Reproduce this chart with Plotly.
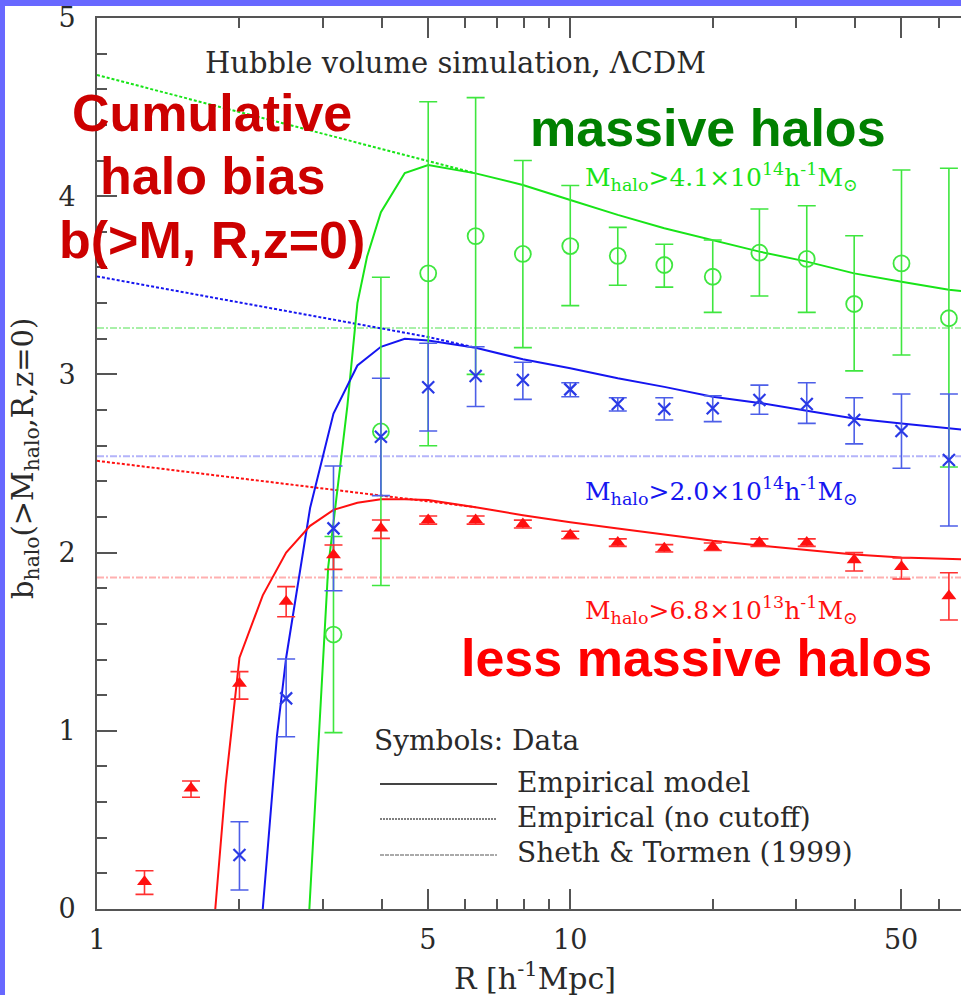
import plotly.graph_objects as go

# ---------------- data ----------------
R_bins = [1.26, 1.58, 2.0, 2.51, 3.16, 3.98, 5.01, 6.31, 7.94, 10.0,
          12.6, 15.8, 20.0, 25.1, 31.6, 39.8, 50.1, 63.1]

# less massive halos: M > 6.8e13
red_R = R_bins
red_b = [0.153, 0.677, 1.266, 1.725, 1.987, 2.136, 2.183, 2.183, 2.16, 2.099,
         2.056, 2.024, 2.033, 2.056, 2.056, 1.958, 1.921, 1.756]
red_hi = [0.215, 0.718, 1.332, 1.809, 2.043, 2.183, 2.205, 2.205, 2.182, 2.12,
          2.077, 2.045, 2.054, 2.077, 2.077, 2.0, 1.97, 1.887]
red_lo = [0.082, 0.627, 1.178, 1.64, 1.906, 2.08, 2.16, 2.16, 2.138, 2.078,
          2.035, 2.003, 2.012, 2.035, 2.035, 1.897, 1.852, 1.622]

# M > 2.0e14
blue_R = R_bins[2:]
blue_b = [0.303, 1.182, 2.136, 2.65, 2.928, 2.991, 2.969, 2.916, 2.834, 2.806,
          2.81, 2.856, 2.834, 2.744, 2.682, 2.52]
blue_hi = [0.49, 1.403, 2.486, 2.978, 3.175, 3.155, 3.068, 2.953, 2.869, 2.869,
           2.88, 2.94, 2.953, 2.869, 2.89, 2.89]
blue_lo = [0.107, 0.967, 1.786, 2.32, 2.682, 2.82, 2.86, 2.875, 2.795, 2.744,
           2.735, 2.776, 2.725, 2.61, 2.473, 2.149]

# massive halos: M > 4.1e14
green_R = R_bins[4:]
green_b = [1.54, 2.68, 3.567, 3.776, 3.676, 3.72, 3.665, 3.614, 3.548, 3.683,
           3.648, 3.395, 3.623, 3.315]
green_hi = [2.09, 3.545, 4.53, 4.553, 4.20, 4.06, 3.825, 3.73, 3.754, 3.928,
            3.946, 3.778, 4.147, 4.157]
green_lo = [0.99, 1.815, 2.60, 3.0, 3.15, 3.386, 3.50, 3.49, 3.348, 3.44,
            3.348, 3.02, 3.109, 2.48]

# Empirical model (solid)
red_model_R = [1.778, 1.87, 2.0, 2.24, 2.51, 2.82, 3.16, 3.55, 3.98, 4.47, 5.01,
               6.31, 7.94, 10.0, 12.6, 15.8, 20.0, 25.1, 31.6, 39.8, 50.1, 63.1, 67.0]
red_model = [0.0, 0.70, 1.41, 1.76, 2.0, 2.15, 2.24, 2.28, 2.30, 2.30, 2.295,
             2.255, 2.21, 2.17, 2.135, 2.10, 2.067, 2.04, 2.015, 1.99, 1.973, 1.965, 1.962]
blue_model_R = [2.24, 2.40, 2.51, 2.82, 3.16, 3.55, 3.98, 4.47, 5.01, 6.31, 7.94,
                10.0, 12.6, 15.8, 20.0, 25.1, 31.6, 39.8, 50.1, 63.1, 67.0]
blue_model = [0.0, 0.97, 1.41, 2.25, 2.78, 3.05, 3.155, 3.20, 3.19, 3.15, 3.085,
              3.035, 2.978, 2.93, 2.875, 2.84, 2.796, 2.753, 2.725, 2.70, 2.69]
green_model_R = [2.81, 3.08, 3.38, 3.55, 3.72, 3.98, 4.47, 5.01, 6.31, 7.94, 10.0,
                 12.6, 15.8, 20.0, 25.1, 31.6, 39.8, 50.1, 63.1, 67.0]
green_model = [0.0, 1.92, 2.82, 3.40, 3.66, 3.91, 4.13, 4.175, 4.128, 4.063, 3.979,
               3.895, 3.82, 3.754, 3.689, 3.633, 3.567, 3.52, 3.475, 3.468]

# Empirical (no cutoff) (dashed)
nc_R = [1.0, 5.01, 6.31]
red_nc = [2.515, 2.29, 2.255]
blue_nc = [3.55, 3.21, 3.15]
green_nc = [4.68, 4.20, 4.128]

# Sheth & Tormen (1999) constant bias
st_R = [1.0, 67.0]
red_st = [1.86, 1.86]
blue_st = [2.54, 2.54]
green_st = [3.26, 3.26]

x_tickvals = [1, 5, 10, 50]
x_ticktext = ["1", "5", "10", "50"]
x_minor = [2, 3, 4, 6, 7, 8, 9, 20, 30, 40, 60]

# ---------------- styling ----------------
RED = "#ff1010"
BLUE_L = "#1515f0"
BLUE_P = "#2a3ae6"
BLUE_E = "#4d5fe8"
GREEN_L = "#18e418"
GREEN_P = "#3fe63f"
AX = "#555555"
TXT = "#2a2a2a"
SERIF = "DejaVu Serif"
SANS = "Liberation Sans, Arial, sans-serif"

fig = go.Figure()

# Sheth & Tormen lines
for ys, c in [(green_st, "#a8f0a8"), (blue_st, "#b4b4fa"), (red_st, "#ffb0b0")]:
    fig.add_trace(go.Scatter(x=st_R, y=ys, mode="lines",
                             line=dict(color=c, width=2, dash="7px,2px,2px,2px")))

# no cutoff dashed
for ys, c in [(green_nc, GREEN_L), (blue_nc, BLUE_L), (red_nc, RED)]:
    fig.add_trace(go.Scatter(x=nc_R, y=ys, mode="lines",
                             line=dict(color=c, width=2, dash="3px,2px")))

# model solid
for xs, ys, c in [(green_model_R, green_model, GREEN_L),
                  (blue_model_R, blue_model, BLUE_L),
                  (red_model_R, red_model, RED)]:
    fig.add_trace(go.Scatter(x=xs, y=ys, mode="lines",
                             line=dict(color=c, width=2)))


def err(b, hi, lo):
    return ([h - v for h, v in zip(hi, b)], [v - l for v, l in zip(b, lo)])


gp, gm = err(green_b, green_hi, green_lo)
fig.add_trace(go.Scatter(
    x=green_R, y=green_b, mode="markers",
    marker=dict(symbol="circle-open", size=16, color=GREEN_P, line=dict(width=1.8, color=GREEN_P)),
    error_y=dict(type="data", array=gp, arrayminus=gm, color=GREEN_P, thickness=1.6, width=9)))

bp, bm = err(blue_b, blue_hi, blue_lo)
fig.add_trace(go.Scatter(
    x=blue_R, y=blue_b, mode="markers",
    marker=dict(symbol="x-thin", size=12, color=BLUE_P, line=dict(width=2.2, color=BLUE_P)),
    error_y=dict(type="data", array=bp, arrayminus=bm, color=BLUE_E, thickness=1.6, width=9)))

rp, rm = err(red_b, red_hi, red_lo)
fig.add_trace(go.Scatter(
    x=red_R, y=red_b, mode="markers",
    marker=dict(symbol="triangle-up", size=13, color=RED),
    error_y=dict(type="data", array=rp, arrayminus=rm, color="#ff3030", thickness=1.6, width=9)))

# ---------------- layout ----------------
L, T, B_ = 97, 18, 86
W, H = 961, 995
PW, PH = W - L, H - T - B_


def P(px, py):
    return (px - L) / PW, (H - B_ - py) / PH


annotations = []


def add_text(text, px, py, size, color, family, xanchor="center", angle=0):
    x, y = P(px, py)
    annotations.append(dict(text=text, x=x, y=y, xref="paper", yref="paper",
                            showarrow=False, xanchor=xanchor, yanchor="middle",
                            textangle=angle,
                            font=dict(size=size, color=color, family=family)))


add_text("Hubble volume simulation, ΛCDM", 455, 63, 29, TXT, SERIF)
add_text("<b>Cumulative</b>", 212, 113, 52, "#cc0000", SANS)
add_text("<b>halo bias</b>", 212, 176, 52, "#cc0000", SANS)
add_text("<b>b(>M, R,z=0)</b>", 212, 240, 52, "#cc0000", SANS)
add_text("<b>massive halos</b>", 708, 128, 52, "#008000", SANS)
add_text("<b>less massive halos</b>", 696, 658, 52, "#ff0000", SANS)
add_text("M<sub>halo</sub>>4.1×10<sup>14</sup>h<sup>-1</sup>M<sub>⊙</sub>", 721, 177, 25, GREEN_L, SERIF)
add_text("M<sub>halo</sub>>2.0×10<sup>14</sup>h<sup>-1</sup>M<sub>⊙</sub>", 721, 491, 25, BLUE_L, SERIF)
add_text("M<sub>halo</sub>>6.8×10<sup>13</sup>h<sup>-1</sup>M<sub>⊙</sub>", 721, 610, 25, RED, SERIF)
add_text("Symbols: Data", 372, 740, 28, TXT, SERIF, xanchor="left")
add_text("Empirical model", 515, 782, 28, TXT, SERIF, xanchor="left")
add_text("Empirical (no cutoff)", 515, 817, 28, TXT, SERIF, xanchor="left")
add_text("Sheth & Tormen (1999)", 515, 852, 28, TXT, SERIF, xanchor="left")
add_text("b<sub>halo</sub>(>M<sub>halo</sub>,R,z=0)", 25, 459, 29, TXT, SERIF, angle=-90)
add_text("R [h<sup>-1</sup>Mpc]", 535, 976, 30, TXT, SERIF)

shapes = []
# legend sample lines
for py, dash, col, wd in [(784, "solid", "#444444", 2), (819, "2px,1px", "#555555", 1.5),
                          (855, "4px,1px", "#aaaaaa", 2)]:
    x0, y0 = P(380, py)
    x1, _ = P(497, py)
    shapes.append(dict(type="line", xref="paper", yref="paper", x0=x0, x1=x1, y0=y0, y1=y0,
                       line=dict(color=col, width=wd, dash=dash)))
# blue frame (left and top)
x0, y0 = P(0, H)
x1, y1 = P(5, 0)
shapes.append(dict(type="rect", xref="paper", yref="paper", x0=x0, x1=x1, y0=y0, y1=y1,
                   fillcolor="#6868ff", line=dict(width=0), layer="above"))
x0, y0 = P(0, 6)
x1, y1 = P(W, 0)
shapes.append(dict(type="rect", xref="paper", yref="paper", x0=x0, x1=x1, y0=y0, y1=y1,
                   fillcolor="#6868ff", line=dict(width=0), layer="above"))

fig.update_layout(
    width=W, height=H, margin=dict(l=L, r=0, t=T, b=B_),
    paper_bgcolor="white", plot_bgcolor="white", showlegend=False,
    annotations=annotations, shapes=shapes,
    xaxis=dict(type="log", range=[0, 1.8256], showgrid=False, zeroline=False,
               showline=True, linecolor=AX, linewidth=2, mirror="ticks",
               ticks="inside", ticklen=20, tickwidth=1.5, tickcolor=AX,
               tickvals=x_tickvals, ticktext=x_ticktext, ticklabelstandoff=6,
               tickfont=dict(family=SERIF, size=27, color=TXT),
               minor=dict(tickvals=x_minor, ticks="inside", ticklen=10,
                          tickwidth=1.5, tickcolor=AX)),
    yaxis=dict(range=[0, 5], showgrid=False, zeroline=False,
               showline=True, linecolor=AX, linewidth=2,
               ticks="inside", ticklen=20, tickwidth=1.5, tickcolor=AX,
               tick0=0, dtick=1, ticklabelstandoff=14,
               tickfont=dict(family=SERIF, size=27, color=TXT),
               minor=dict(dtick=0.2, ticks="inside", ticklen=10,
                          tickwidth=1.5, tickcolor=AX)),
)

fig.write_html("out.html")
